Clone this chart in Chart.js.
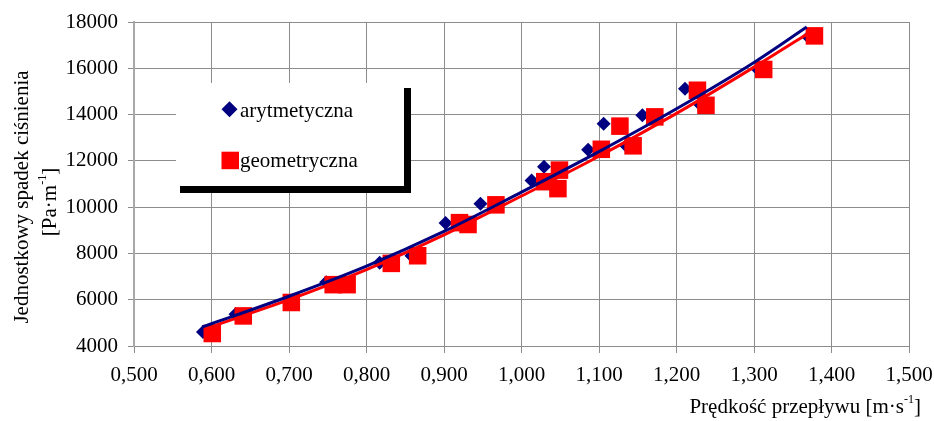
<!DOCTYPE html>
<html>
<head>
<meta charset="utf-8">
<script src="https://cdn.jsdelivr.net/npm/chart.js@4.4.0/dist/chart.umd.min.js"></script>
<style>
  html, body { margin: 0; padding: 0; background: #fff; }
  #wrap { width: 934px; height: 421px; position: relative; }
</style>
</head>
<body>
<div id="wrap"><canvas id="chart"></canvas></div>
<script>
const X_TICKS = [0.5, 0.6, 0.7, 0.8, 0.9, 1.0, 1.1, 1.2, 1.3, 1.4, 1.5];
const X_TICK_LABELS = ['0,500', '0,600', '0,700', '0,800', '0,900', '1,000', '1,100', '1,200', '1,300', '1,400', '1,500'];
const Y_TICKS = [4000, 6000, 8000, 10000, 12000, 14000, 16000, 18000];
const Y_TICK_LABELS = ['4000', '6000', '8000', '10000', '12000', '14000', '16000', '18000'];

// arytmetyczna - measured points
const arytX = [0.589, 0.631, 0.748, 0.817, 0.858, 0.902, 0.947, 1.013, 1.029, 1.086, 1.106, 1.135, 1.156, 1.211, 1.230, 1.305, 1.370];
const arytY = [4600, 5370, 6750, 7600, 7900, 9310, 10150, 11150, 11750, 12480, 13600, 12650, 13970, 15120, 14450, 15950, 17350];

// geometryczna - measured points
const geomX = [0.601, 0.641, 0.703, 0.757, 0.775, 0.832, 0.866, 0.920, 0.931, 0.967, 1.030, 1.047, 1.049, 1.103, 1.127, 1.144, 1.172, 1.227, 1.238, 1.3125, 1.378];
const geomY = [4540, 5300, 5880, 6650, 6650, 7570, 7900, 9330, 9250, 10100, 11100, 10800, 11600, 12500, 13500, 12650, 13900, 15050, 14400, 15950, 17400];

// trend lines
const arytTrendX = [0.588, 0.6, 0.7, 0.8, 0.9, 1.0, 1.1, 1.2, 1.3, 1.368];
const arytTrendY = [4820, 4960, 6150, 7450, 8950, 10650, 12400, 14250, 16250, 17780];
const geomTrendX = [0.601, 0.7, 0.8, 0.9, 1.0, 1.1, 1.2, 1.3, 1.378];
const geomTrendY = [4850, 6000, 7300, 8800, 10480, 12200, 14050, 16050, 17680];

const SERIES_NAMES = ['arytmetyczna', 'geometryczna'];
const X_TITLE = ['Prędkość przepływu [m·s', '-1', ']'];
const Y_TITLE_1 = 'Jednostkowy spadek ciśnienia';
const Y_TITLE_2 = ['[Pa·m', '-1', ']'];

const NAVY = '#000080';
const RED = '#ff0000';
const FONT = '"Liberation Serif", "Times New Roman", serif';

function pairs(xs, ys) {
    return xs.map((x, i) => ({ x: x, y: ys[i] }));
}

// draws base text + superscript + closing text, ending at x
function drawSupRight(ctx, parts, x, y) {
    ctx.font = '21px ' + FONT;
    const w0 = ctx.measureText(parts[0]).width;
    const w2 = ctx.measureText(parts[2]).width;
    ctx.font = '12px ' + FONT;
    const w1 = ctx.measureText(parts[1]).width;
    let cx = x - (w0 + w1 + w2);
    ctx.textAlign = 'left';
    ctx.textBaseline = 'alphabetic';
    ctx.font = '21px ' + FONT;
    ctx.fillText(parts[0], cx, y);
    cx += w0;
    ctx.font = '12px ' + FONT;
    ctx.fillText(parts[1], cx, y - 10);
    cx += w1;
    ctx.font = '21px ' + FONT;
    ctx.fillText(parts[2], cx, y);
    return w0 + w1 + w2;
}

const decorPlugin = {
    id: 'decor',
    afterDraw(chart) {
        const ctx = chart.ctx;
        ctx.save();
        ctx.fillStyle = '#000';

        // x title
        drawSupRight(ctx, X_TITLE, 921, 413);

        // y title, two rotated lines
        ctx.save();
        ctx.translate(28, 197);
        ctx.rotate(-Math.PI / 2);
        ctx.font = '21px ' + FONT;
        ctx.textAlign = 'center';
        ctx.textBaseline = 'alphabetic';
        ctx.fillText(Y_TITLE_1, 0, 0);
        ctx.restore();

        ctx.save();
        ctx.translate(56, 202);
        ctx.rotate(-Math.PI / 2);
        ctx.font = '21px ' + FONT;
        const w0 = ctx.measureText(Y_TITLE_2[0]).width;
        const w2 = ctx.measureText(Y_TITLE_2[2]).width;
        ctx.font = '12px ' + FONT;
        const w1 = ctx.measureText(Y_TITLE_2[1]).width;
        drawSupRight(ctx, Y_TITLE_2, (w0 + w1 + w2) / 2, 0);
        ctx.restore();

        // legend box with black shadow
        ctx.fillStyle = '#000';
        ctx.fillRect(180, 88, 231, 105);
        ctx.fillStyle = '#fff';
        ctx.fillRect(176, 83, 228, 103);

        ctx.fillStyle = NAVY;
        ctx.beginPath();
        ctx.moveTo(229.5, 101.2);
        ctx.lineTo(237.5, 109.2);
        ctx.lineTo(229.5, 117.2);
        ctx.lineTo(221.5, 109.2);
        ctx.closePath();
        ctx.fill();

        ctx.fillStyle = RED;
        ctx.fillRect(221.5, 151.7, 17.5, 17.5);

        ctx.fillStyle = '#000';
        ctx.font = '21px ' + FONT;
        ctx.textAlign = 'left';
        ctx.textBaseline = 'alphabetic';
        ctx.fillText(SERIES_NAMES[0], 240, 117);
        ctx.fillText(SERIES_NAMES[1], 240, 167);
        ctx.restore();
    }
};

new Chart(document.getElementById('chart'), {
    type: 'scatter',
    data: {
        datasets: [
            {
                type: 'line',
                label: SERIES_NAMES[0] + ' trend',
                data: pairs(arytTrendX, arytTrendY),
                borderColor: NAVY,
                borderWidth: 3,
                pointRadius: 0,
                cubicInterpolationMode: 'monotone',
                fill: false,
                order: 1
            },
            {
                type: 'line',
                label: SERIES_NAMES[1] + ' trend',
                data: pairs(geomTrendX, geomTrendY),
                borderColor: RED,
                borderWidth: 3,
                pointRadius: 0,
                cubicInterpolationMode: 'monotone',
                fill: false,
                order: 2
            },
            {
                label: SERIES_NAMES[1],
                data: pairs(geomX, geomY),
                pointStyle: 'rect',
                pointRadius: 12.4,
                pointHoverRadius: 12.4,
                backgroundColor: RED,
                borderColor: RED,
                borderWidth: 0,
                order: 3
            },
            {
                label: SERIES_NAMES[0],
                data: pairs(arytX, arytY),
                pointStyle: 'rectRot',
                pointRadius: 7,
                pointHoverRadius: 7,
                backgroundColor: NAVY,
                borderColor: NAVY,
                borderWidth: 0,
                order: 4
            }
        ]
    },
    options: {
        responsive: true,
        maintainAspectRatio: false,
        animation: false,
        layout: { padding: { top: 22, right: 25, left: 0, bottom: 0 } },
        plugins: {
            legend: { display: false },
            tooltip: { enabled: false }
        },
        scales: {
            x: {
                type: 'linear',
                min: 0.5,
                max: 1.5,
                afterBuildTicks: (scale) => { scale.ticks = X_TICKS.map(v => ({ value: v })); },
                afterFit: (scale) => {
                    scale.height = 75;
                    scale.paddingLeft = 0;
                    scale.paddingRight = 0;
                },
                ticks: {
                    callback: (value, index) => X_TICK_LABELS[index],
                    color: '#000',
                    font: { family: FONT, size: 21 },
                    padding: 10,
                    maxRotation: 0,
                    autoSkip: false
                },
                grid: { color: '#8c8c8c', lineWidth: 1, tickLength: 7 },
                border: { color: '#8c8c8c', width: 1 }
            },
            y: {
                type: 'linear',
                min: 4000,
                max: 18000,
                afterBuildTicks: (scale) => { scale.ticks = Y_TICKS.map(v => ({ value: v })); },
                afterFit: (scale) => {
                    scale.width = 134;
                    scale.paddingTop = 0;
                    scale.paddingBottom = 0;
                },
                ticks: {
                    callback: (value, index) => Y_TICK_LABELS[index],
                    color: '#000',
                    font: { family: FONT, size: 21 },
                    padding: 10,
                    autoSkip: false
                },
                grid: { color: '#8c8c8c', lineWidth: 1, tickLength: 6 },
                border: { color: '#a8a8a8', width: 2 }
            }
        }
    },
    plugins: [decorPlugin]
});
</script>
</body>
</html>
